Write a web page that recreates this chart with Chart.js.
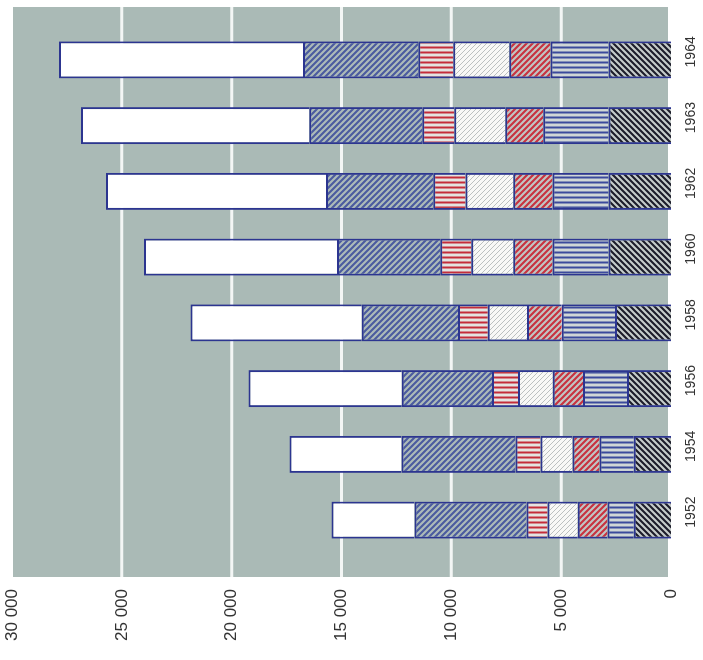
<!DOCTYPE html>
<html>
<head>
<meta charset="utf-8">
<script src="https://cdn.jsdelivr.net/npm/chart.js@4"></script>
<style>
html,body{margin:0;padding:0;background:#fff;overflow:hidden;width:703px;height:660px;}
#wrap{position:absolute;left:0;top:0;width:660px;height:703px;transform-origin:0 0;transform:translate(0,660px) rotate(-90deg);}
canvas{display:block;}
</style>
</head>
<body>
<div id="wrap"><canvas id="c" width="660" height="703"></canvas></div>
<script>
// ---- data ----
const years = ['1952','1954','1956','1958','1960','1962','1963','1964'];
const segBlackHatch = [1700, 1700, 2000, 2550, 2850, 2850, 2850, 2850];
const segBlueLines  = [1190, 1550, 2010, 2420, 2550, 2550, 2960, 2640];
const segRedHatch   = [1360, 1230, 1370, 1590, 1780, 1780, 1730, 1870];
const segDotted     = [1370, 1460, 1590, 1780, 1910, 2180, 2330, 2550];
const segRedLines   = [960, 1140, 1180, 1360, 1410, 1460, 1450, 1600];
const segBlueHatch  = [5100, 5190, 4110, 4380, 4700, 4880, 5150, 5240];
const segWhite      = [3780, 5100, 6970, 7790, 8790, 10020, 10390, 11110];
const valueTicks = [0, 5000, 10000, 15000, 20000, 25000, 30000];

// ---- pattern helper ----
function makePattern(bg, fg, kind, p, lw) {
  const t = document.createElement('canvas');
  t.width = p; t.height = p;
  const g = t.getContext('2d');
  g.fillStyle = bg; g.fillRect(0, 0, p, p);
  g.strokeStyle = fg; g.lineWidth = lw; g.lineCap = 'square';
  g.beginPath();
  if (kind === 'up') {
    g.moveTo(0, p); g.lineTo(p, 0);
    g.moveTo(-1, 1); g.lineTo(1, -1);
    g.moveTo(p - 1, p + 1); g.lineTo(p + 1, p - 1);
  } else if (kind === 'down') {
    g.moveTo(0, 0); g.lineTo(p, p);
    g.moveTo(-1, p - 1); g.lineTo(1, p + 1);
    g.moveTo(p - 1, -1); g.lineTo(p + 1, 1);
  } else if (kind === 'vert') {
    g.moveTo(p / 2, -1); g.lineTo(p / 2, p + 1);
  }
  g.stroke();
  return g.createPattern(t, 'repeat');
}
const ctx = document.getElementById('c').getContext('2d');
const pBlackHatch = makePattern('#c6cdcb', '#1c1c2a', 'up', 6, 2.1);
const pBlueLines  = makePattern('#d0d6d6', '#3b4a9c', 'vert', 5, 2);
const pRedHatch   = makePattern('#c1c5c4', '#c8323f', 'down', 6, 2.1);
const pDotted     = makePattern('#f8f8f6', '#bcc0c0', 'down', 5, 1);
const pRedLines   = makePattern('#e4e4e2', '#c42c3a', 'vert', 5, 2);
const pBlueHatch  = makePattern('#adbbb9', '#4b5b9f', 'down', 6, 2.1);

const navy = '#2c3590';
function ds(label, data, fill) {
  return { label, data, backgroundColor: fill, borderColor: navy,
           borderWidth: 2, borderSkipped: 'start', hoverBackgroundColor: fill };
}

const bgPlugin = {
  id: 'bgGrid',
  beforeDraw(chart) {
    const a = chart.chartArea, c = chart.ctx;
    c.save();
    c.fillStyle = '#aabab6';
    c.fillRect(a.left - 24, a.top + 1, (a.right + 20) - (a.left - 24), (a.bottom - 3) - (a.top + 1));
    c.restore();
  },
  beforeDatasetsDraw(chart) {
    const a = chart.chartArea, c = chart.ctx, ys = chart.scales.y;
    c.save();
    c.strokeStyle = '#f3f6f5';
    c.lineWidth = 3;
    valueTicks.forEach(v => {
      if (v === 0 || v === 30000) return;
      const py = ys.getPixelForValue(v);
      c.beginPath();
      c.moveTo(a.left - 24, py); c.lineTo(a.right + 20, py);
      c.stroke();
    });
    c.restore();
  }
};

new Chart(ctx, {
  type: 'bar',
  data: {
    labels: years,
    datasets: [
      ds('A', segBlackHatch, pBlackHatch),
      ds('B', segBlueLines, pBlueLines),
      ds('C', segRedHatch, pRedHatch),
      ds('D', segDotted, pDotted),
      ds('E', segRedLines, pRedLines),
      ds('F', segBlueHatch, pBlueHatch),
      ds('G', segWhite, '#ffffff')
    ]
  },
  options: {
    responsive: false,
    animation: false,
    devicePixelRatio: 1,
    layout: { padding: { top: 12, right: 27, bottom: 0, left: 0 } },
    plugins: { legend: { display: false }, tooltip: { enabled: false } },
    datasets: { bar: { categoryPercentage: 1, barPercentage: 0.563 } },
    scales: {
      x: {
        stacked: true,
        grid: { display: false, drawTicks: false },
        border: { display: false },
        ticks: { color: '#333', font: { family: 'Liberation Sans', size: 14 }, padding: 12, labelOffset: 8, maxRotation: 0, minRotation: 0 },
        afterFit(s) { s.height = 32; s.paddingLeft = 0; s.paddingRight = 0; }
      },
      y: {
        stacked: true,
        min: 0, max: 30000,
        afterBuildTicks(s) { s.ticks = valueTicks.map(v => ({ value: v })); },
        grid: { display: false, drawTicks: false },
        border: { display: false },
        ticks: {
          color: '#333', font: { family: 'Liberation Sans', size: 17 }, padding: 36,
          callback: v => String(v).replace(/\B(?=(\d{3})+(?!\d))/g, ' ')
        },
        afterFit(s) { s.width = 107; s.paddingTop = 0; s.paddingBottom = 0; }
      }
    }
  },
  plugins: [bgPlugin]
});
</script>
</body>
</html>
